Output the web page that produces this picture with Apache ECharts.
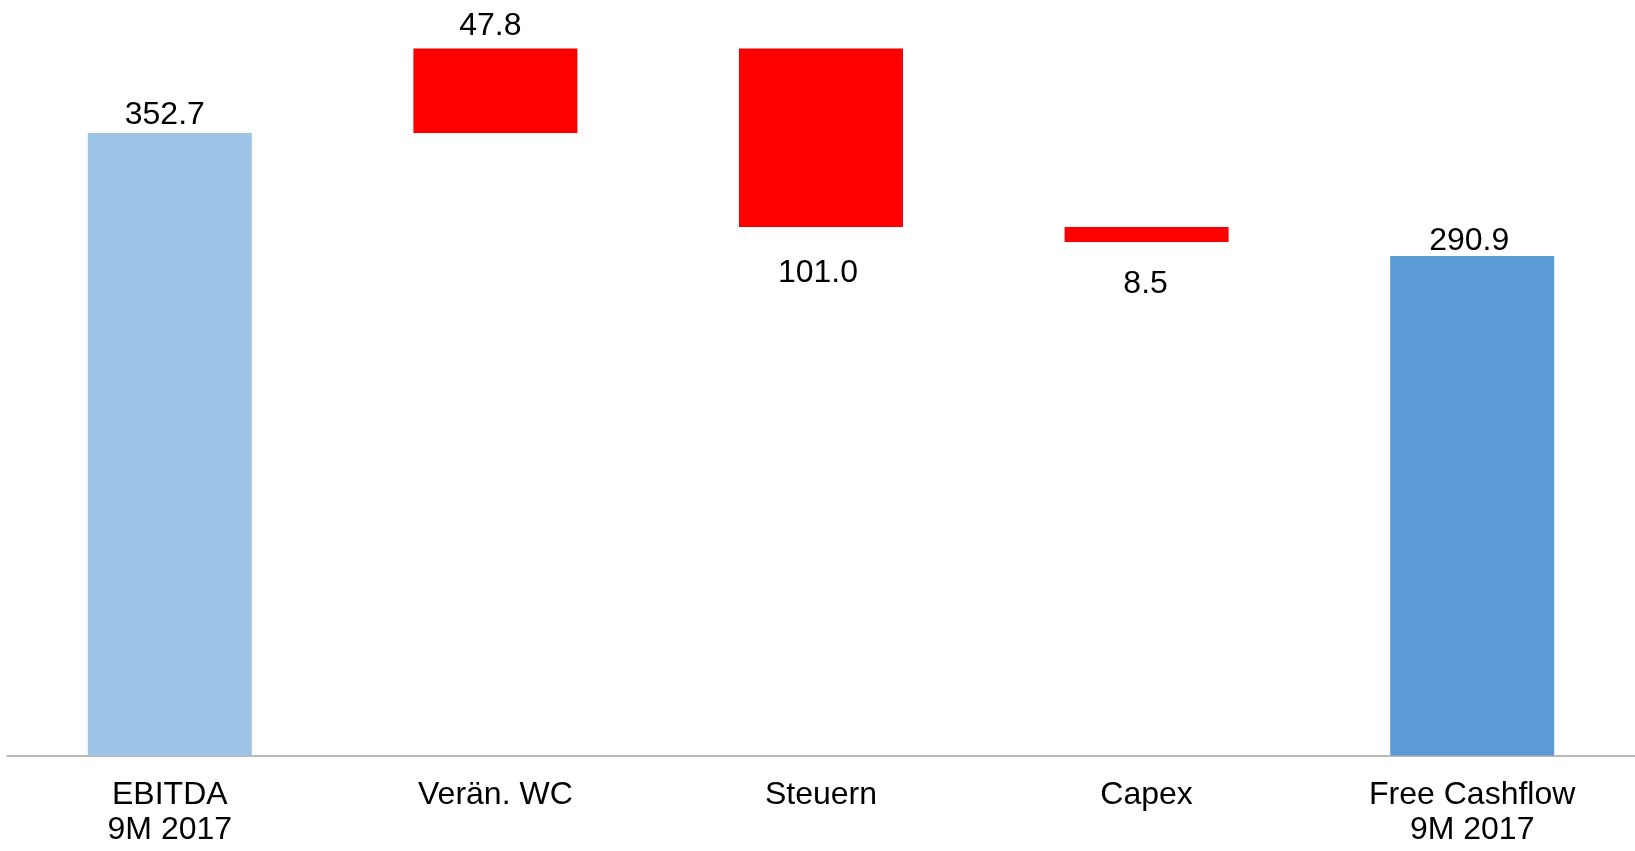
<!DOCTYPE html>
<html>
<head>
<meta charset="utf-8">
<style>
html,body{margin:0;padding:0;background:#fff;}
#chart{width:1635px;height:851px;}
</style>
<script src="https://cdn.jsdelivr.net/npm/echarts@6/dist/echarts.min.js"></script>
</head>
<body>
<div id="chart"></div>
<script>
// ---- data ----
const categories = ['EBITDA\n9M 2017', 'Verän. WC', 'Steuern', 'Capex', 'Free Cashflow\n9M 2017'];
const kinds = ['total', 'delta', 'delta', 'delta', 'total'];
const changes = [352.7, 47.8, -101.0, -8.5, 290.9];
const labelTexts = ['352.7', '47.8', '101.0', '8.5', '290.9'];
const fcfDrawnHeight = 283.0; // final bar height as drawn in the picture

// ---- styling ----
const colors = ['#9DC3E6', '#FF0000', '#FF0000', '#FF0000', '#5B9BD5'];
const labelPlace = [
  {position: 'top', distance: 2, offset: [-5, 0]},
  {position: 'top', distance: 6, offset: [-5, 0]},
  {position: 'bottom', distance: 30, offset: [-3, 0]},
  {position: 'bottom', distance: 26, offset: [-1, 0]},
  {position: 'top', distance: -1, offset: [-3, 0]}
];
const FONT = '"Liberation Sans", Arial, sans-serif';

// ---- build waterfall ----
let running = 0;
const baseData = [], barData = [];
categories.forEach((c, i) => {
  const v = changes[i];
  if (kinds[i] === 'total') {
    const h = (i === categories.length - 1) ? fcfDrawnHeight : v;
    baseData.push(0);
    running = v;
    barData.push({
      value: h,
      itemStyle: {color: colors[i]},
      label: Object.assign({show: true, formatter: labelTexts[i]}, labelPlace[i])
    });
  } else {
    const start = running, end = running + v;
    baseData.push(Math.min(start, end));
    running = end;
    barData.push({
      value: Math.abs(v),
      itemStyle: {color: colors[i]},
      label: Object.assign({show: true, formatter: labelTexts[i]}, labelPlace[i])
    });
  }
});

const chart = echarts.init(document.getElementById('chart'), null, {renderer: 'canvas'});
chart.setOption({
  animation: false,
  backgroundColor: '#ffffff',
  grid: {left: 7, width: 1632, top: 14.2, bottom: 95.5, containLabel: false},
  xAxis: {
    type: 'category',
    data: categories,
    axisLine: {show: true, lineStyle: {color: '#a3a3a3', width: 1.5}},
    axisTick: {show: false},
    axisLabel: {
      color: '#000', fontFamily: FONT, fontSize: 32, lineHeight: 35,
      margin: 22, interval: 0
    }
  },
  yAxis: {
    type: 'value', min: 0, max: 420,
    show: false,
    splitLine: {show: false}
  },
  series: [
    {
      type: 'bar', stack: 'wf', data: baseData, barWidth: 164,
      itemStyle: {color: 'transparent'}, silent: true
    },
    {
      type: 'bar', stack: 'wf', data: barData, barWidth: 164,
      label: {color: '#000', fontFamily: FONT, fontSize: 32}
    }
  ]
});
</script>
</body>
</html>
